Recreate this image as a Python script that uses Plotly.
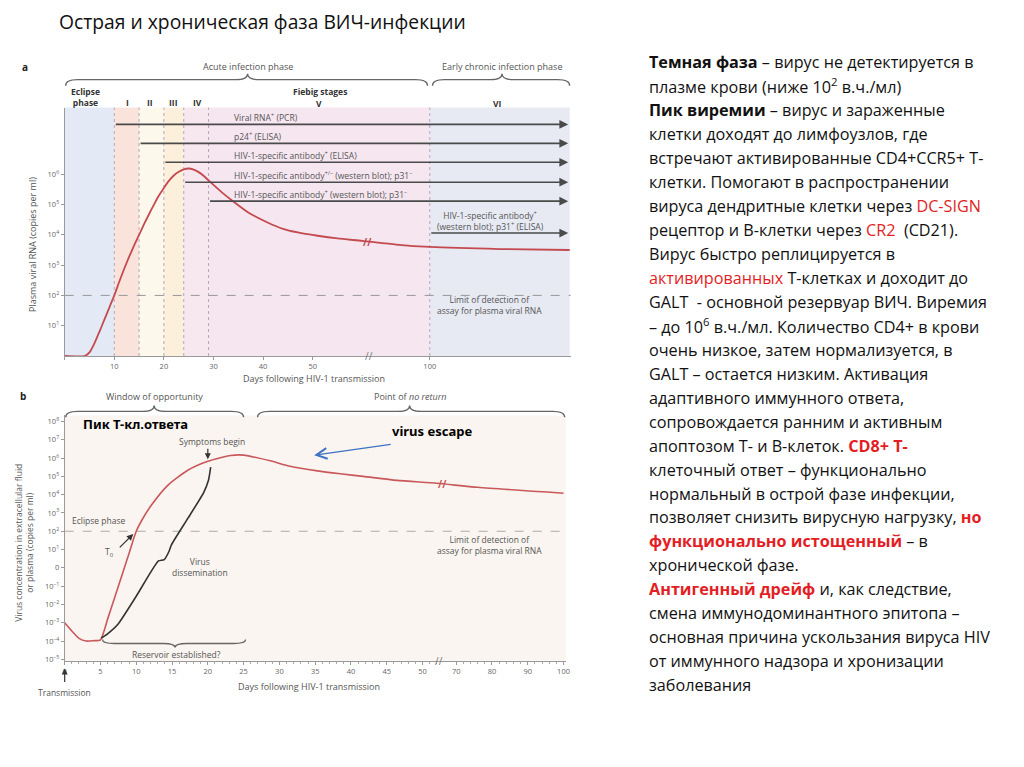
import numpy as np
import plotly.graph_objects as go

# page body has an 8px margin: the figure is drawn 8px in from the window corner
OFF = 8
W, H = 1024 - OFF, 767 - OFF

# ---------------- data ----------------
# Panel a: plasma viral RNA, log10(copies per ml), vs days following HIV-1 transmission
a_days = [0, 4, 5, 6, 7, 8, 9, 10, 11, 12, 13, 14, 15, 16, 17, 18, 19, 20, 21, 22, 23, 24, 25,
          26, 27, 28, 29, 30, 32, 34, 37, 41, 44, 47, 51, 55, 60, 80, 100, 150, 200]
a_log_rna = [0, 0, 0.12, 0.42, 0.8, 1.2, 1.6, 2.0, 2.45, 2.88, 3.28, 3.65, 4.0, 4.35, 4.68, 5.0, 5.3,
             5.55, 5.78, 5.96, 6.08, 6.16, 6.19, 6.15, 6.07, 5.95, 5.8, 5.65, 5.36, 5.1, 4.74, 4.4,
             4.2, 4.08, 3.97, 3.88, 3.8, 3.68, 3.6, 3.53, 3.5]
# Fiebig stage boundaries (days) and names
stage_bounds = [0, 10, 15, 20, 24, 29, 100, 200]
stage_names = ["Eclipse<br>phase", "I", "II", "III", "IV", "V", "VI"]
# Assays: first day positive, label
assay_start = [10, 15, 20, 24, 29, 100]
assay_labels = [
    "Viral RNA<sup>+</sup> (PCR)",
    "p24<sup>+</sup> (ELISA)",
    "HIV-1-specific antibody<sup>+</sup> (ELISA)",
    "HIV-1-specific antibody<sup>+/–</sup> (western blot); p31<sup>–</sup>",
    "HIV-1-specific antibody<sup>+</sup> (western blot); p31<sup>–</sup>",
    "HIV-1-specific antibody<sup>+</sup><br>(western blot); p31<sup>+</sup> (ELISA)",
]
detection_limit_log = 2
a_tick_days = [0, 10, 20, 30, 40, 50, 100]
a_tick_text = ["", "10", "20", "30", "40", "50", "100"]
a_y_exps = [1, 2, 3, 4, 5, 6]

# Panel b: virus concentration, log10(copies per ml)
b_days = [0, 1, 2, 3, 4, 5, 6, 7, 8, 9, 10, 11, 12.1, 14.4, 17.2, 20, 23.2, 25, 28.7, 31.5,
          35.3, 38.5, 41.7, 46.4, 52, 76, 100]
b_log_plasma = [-3.0, -3.45, -3.85, -4.0, -3.98, -3.93, -2.8, -1.6, -0.4, 0.8, 2.0, 2.75, 3.42,
                4.51, 5.33, 5.82, 6.14, 6.16, 5.85, 5.55, 5.3, 5.14, 5.0, 4.78, 4.62, 4.4, 4.08]
b_black_days = [5.1, 6, 7.5, 10, 13.1, 13.9, 14.6, 14.9, 17.2, 19.4, 20.1, 20.4]
b_black_log = [-3.84, -3.6, -3.05, -1.55, 0.38, 0.45, 0.92, 1.25, 2.7, 4.1, 4.8, 5.5]
b_tick_days = [0, 5, 10, 15, 20, 25, 30, 35, 40, 45, 50, 70, 80, 90, 100]
b_y_exps = [-5, -4, -3, -2, -1, 0, 1, 2, 3, 4, 5, 6, 7, 8]

# ---------------- axis break mappings ----------------
a_map_days = [0, 60, 100, 200]
a_map_pos = [0, 60, 73.6, 101.8]
b_map_days = [0, 52, 70, 100]
b_map_pos = [0, 52, 54.7, 69.7]


def amap(d):
    return np.interp(d, a_map_days, a_map_pos)


def bmap(d):
    return np.interp(d, b_map_days, b_map_pos)


def PX(x):
    return (x - OFF) / W


def PY(y):
    return 1 - (y - OFF) / H


# y of panel a in log units from pixel (for annotation layer positions)
def ya(py):
    return (357.4 - py) / 30.4


RED = "#c44a50"
TXT = "#555555"
FONT = "Open Sans"

fig = go.Figure()

# ---- curves ----
fig.add_trace(go.Scatter(x=amap(np.array(a_days)), y=a_log_rna, mode="lines",
                         line=dict(color=RED, width=1.8, shape="spline", smoothing=0.6),
                         xaxis="x", yaxis="y", hoverinfo="skip", showlegend=False))
fig.add_trace(go.Scatter(x=bmap(np.array(b_days)), y=b_log_plasma, mode="lines",
                         line=dict(color="#c9585c", width=1.6, shape="spline", smoothing=0.6),
                         xaxis="x2", yaxis="y2", hoverinfo="skip", showlegend=False))
fig.add_trace(go.Scatter(x=bmap(np.array(b_black_days)), y=b_black_log, mode="lines",
                         line=dict(color="#333333", width=1.6, shape="spline", smoothing=0.5),
                         xaxis="x2", yaxis="y2", hoverinfo="skip", showlegend=False))

shapes = []
annotations = []

# ---- panel a bands ----
band_colors = ["#e3eaf5", "#f9e3da", "#fdf8ec", "#fcefdc", "#f7e7ef", "#f5e6f0", "#e7e9f3"]
for i in range(len(stage_bounds) - 1):
    shapes.append(dict(type="rect", xref="x", yref="y domain",
                       x0=float(amap(stage_bounds[i])), x1=float(amap(stage_bounds[i + 1])),
                       y0=0, y1=1, fillcolor=band_colors[i], line=dict(width=0), layer="below"))
for d in stage_bounds[1:-1]:
    shapes.append(dict(type="line", xref="x", yref="y domain", x0=float(amap(d)), x1=float(amap(d)),
                       y0=0, y1=1, line=dict(color="#b5a6b6", width=1, dash="dot"), layer="below"))
shapes.append(dict(type="line", xref="x domain", yref="y", x0=0, x1=1, y0=detection_limit_log,
                   y1=detection_limit_log, line=dict(color="#999999", width=1, dash="dash"), layer="below"))

# ---- panel b background ----
shapes.append(dict(type="rect", xref="x2 domain", yref="y2 domain", x0=0, x1=1, y0=0, y1=1,
                   fillcolor="#faf5f0", line=dict(width=0), layer="below"))
shapes.append(dict(type="line", xref="x2 domain", yref="y2", x0=0, x1=1, y0=detection_limit_log,
                   y1=detection_limit_log, line=dict(color="#aaaaaa", width=1, dash="dash"), layer="below"))


def brace(x0, x1, m, y, d=6, r=12, flip=False):
    s = -1 if flip else 1

    def p(x, yy):
        return f"{PX(x):.5f},{PY(yy):.5f}"
    path = (f"M{p(x0, y + s * d)} Q{p(x0, y)} {p(x0 + r, y)} L{p(m - r, y)} Q{p(m, y)} {p(m, y - s * d)} "
            f"Q{p(m, y)} {p(m + r, y)} L{p(x1 - r, y)} Q{p(x1, y)} {p(x1, y + s * d)}")
    return dict(type="path", xref="paper", yref="paper", path=path, line=dict(color="#666666", width=1.3))


shapes += [brace(64, 428, 247, 80), brace(433, 571, 503, 80),
           brace(64, 243, 153, 413), brace(257, 566, 410, 413),
           brace(101, 245, 174, 646, d=4, flip=True)]


def txt(x, y, text, size=9, color=TXT, xanchor="left", yanchor="middle", family=FONT, **kw):
    annotations.append(dict(xref="paper", yref="paper", x=PX(x), y=PY(y), text=text, showarrow=False,
                            xanchor=xanchor, yanchor=yanchor, font=dict(size=size, color=color, family=family),
                            **kw))


def arrow_px(x0, y0, x1, y1, color="#333", width=1.2, head=2, size=1):
    annotations.append(dict(xref="paper", yref="paper", x=PX(x1), y=PY(y1), axref="pixel", ayref="pixel",
                            ax=x0 - x1, ay=y0 - y1, text="", showarrow=True, arrowhead=head, arrowsize=size,
                            arrowwidth=width, arrowcolor=color))


# ---- panel a assay arrows ----
arrow_levels_px = [125, 144, 163, 183, 202, 234]
label_px = [(231, 117), (231, 137), (231, 156), (231, 176), (231, 195), (436, 221)]
for start, lvl, lab, (lx, ly) in zip(assay_start, arrow_levels_px, assay_labels, label_px):
    annotations.append(dict(xref="x", yref="y", x=101.5, y=ya(lvl), axref="x", ayref="y",
                            ax=float(amap(start)), ay=ya(lvl), text="", showarrow=True, arrowhead=2,
                            arrowsize=1.1, arrowwidth=1.6, arrowcolor="#4a4a4a"))
    txt(lx, ly, lab, size=8.5)

# ---- panel a texts ----
txt(18, 67, "<b>a</b>", size=10, color="#222")
txt(247, 67, "Acute infection phase", size=9, xanchor="center")
txt(503, 67, "Early chronic infection phase", size=9, xanchor="center")
txt(67, 97, "<b>" + stage_names[0] + "</b>", size=8.5, color="#333")
for name, xc in zip(stage_names[1:5], [126, 149, 172, 197]):
    txt(xc, 103, "<b>" + name + "</b>", size=8.5, color="#333", xanchor="center")
txt(320, 92, "<b>Fiebig stages</b>", size=8.5, color="#333", xanchor="center")
txt(319, 104, "<b>" + stage_names[5] + "</b>", size=8.5, color="#333", xanchor="center")
txt(498, 104, "<b>" + stage_names[6] + "</b>", size=8.5, color="#333", xanchor="center")
txt(436, 306, "Limit of detection of<br>assay for plasma viral RNA", size=8.5)
txt(314, 380, "Days following HIV-1 transmission", size=9, xanchor="center")
txt(30, 245, "Plasma viral RNA (copies per ml)", size=9, xanchor="center", textangle=-90)
txt(368, 243, "<b>//</b>", size=10, color=RED, xanchor="center")
txt(369, 357, "//", size=10, color="#777", xanchor="center")

# ---- panel b texts ----
txt(16, 398, "<b>b</b>", size=10, color="#222")
txt(153, 398, "Window of opportunity", size=9, xanchor="center")
txt(410, 398, "Point of <i>no return</i>", size=9, xanchor="center")
txt(79, 426, "<b>Пик Т-кл.ответа</b>", size=13, color="#000", family="Noto Sans")
txt(390, 433, "<b>virus escape</b>", size=13, color="#000", family="Noto Sans")
arrow_px(392, 446, 314, 457, color="#3d72c4", width=1.3, head=5, size=1.6)
txt(211, 443, "Symptoms begin", size=8.5, xanchor="center")
arrow_px(207, 449, 207, 461, color="#333", width=1.2, head=2, size=1)
txt(68, 523, "Eclipse phase", size=8.5)
txt(108, 555, "T<sub>0</sub>", size=8.5, xanchor="center")
arrow_px(117, 551, 132, 536, color="#333", width=1.3, head=2, size=1)
txt(169, 569, "Virus<br>dissemination", size=8.5)
txt(175, 657, "Reservoir established?", size=8.5, xanchor="center")
txt(436, 547, "Limit of detection of<br>assay for plasma viral RNA", size=8.5)
arrow_px(63, 686, 63, 671, color="#333", width=1.2, head=2, size=1)
txt(63, 695, "Transmission", size=8.5, xanchor="center")
txt(309, 689, "Days following HIV-1 transmission", size=9, xanchor="center")
txt(22, 545, "Virus concentration in extracellular fluid<br>or plasma (copies per ml)", size=8.5,
    xanchor="center", textangle=-90)
txt(443, 486, "<b>//</b>", size=10, color="#c9585c", xanchor="center")
txt(440, 664, "//", size=10, color="#777", xanchor="center")

# ---- title & right text ----
txt(55, 22, "Острая и хроническая фаза ВИЧ-инфекции", size=19.3, color="#111", family=FONT)

R = "#e31e24"


def red(s, bold=False):
    s2 = f"<span style='color:{R}'>{s}</span>"
    return f"<b>{s2}</b>" if bold else s2


right_lines = [
    "<b>Темная фаза</b> – вирус не детектируется в",
    "плазме крови (ниже 10<sup>2</sup> в.ч./мл)",
    "<b>Пик виремии</b> – вирус и зараженные",
    "клетки доходят до лимфоузлов, где",
    "встречают активированные CD4+CCR5+ Т-",
    "клетки. Помогают в распространении",
    "вируса дендритные клетки через " + red("DC-SIGN"),
    "рецептор и В-клетки через " + red("CR2") + "  (CD21).",
    "Вирус быстро реплицируется в",
    red("активированных") + " Т-клетках и доходит до",
    "GALT  - основной резервуар ВИЧ. Виремия",
    "– до 10<sup>6</sup> в.ч./мл. Количество CD4+ в крови",
    "очень низкое, затем нормализуется, в",
    "GALT – остается низким. Активация",
    "адаптивного иммунного ответа,",
    "сопровождается ранним и активным",
    "апоптозом Т- и В-клеток. " + red("CD8+ Т-", True),
    "клеточный ответ – функционально",
    "нормальный в острой фазе инфекции,",
    "позволяет снизить вирусную нагрузку, " + red("но", True),
    red("функционально истощенный", True) + " – в",
    "хронической фазе.",
    red("Антигенный дрейф", True) + " и, как следствие,",
    "смена иммунодоминантного эпитопа –",
    "основная причина ускользания вируса HIV",
    "от иммунного надзора и хронизации",
    "заболевания",
]
for i, line in enumerate(right_lines):
    txt(649, 62 + i * 24.08, line, size=16.2, color="#111", family=FONT)


def sup_label(e):
    if e == 0:
        return "0"
    return "10<sup>" + (str(e) if e >= 0 else "–" + str(-e)) + "</sup>"


tickfont = dict(size=7.5, color="#666", family=FONT)
axis_common = dict(showgrid=False, zeroline=False, showline=True, linecolor="#9a9a9a", linewidth=1,
                   ticks="outside", ticklen=3, tickcolor="#9a9a9a", tickfont=tickfont)

fig.update_layout(
    width=W, height=H, margin=dict(l=0, r=0, t=0, b=0),
    paper_bgcolor="white", plot_bgcolor="rgba(0,0,0,0)",
    xaxis=dict(domain=[PX(63), PX(572)], range=[0, 102], anchor="y",
               tickmode="array", tickvals=list(amap(np.array(a_tick_days))), ticktext=a_tick_text,
               **axis_common),
    yaxis=dict(domain=[PY(357.4), PY(108)], range=[0, 8.2], anchor="x",
               tickmode="array", tickvals=a_y_exps, ticktext=[sup_label(e) for e in a_y_exps],
               **axis_common),
    xaxis2=dict(domain=[PX(63), PX(567)], range=[0, 70], anchor="y2",
                tickmode="array", tickvals=list(bmap(np.array(b_tick_days))),
                ticktext=[str(d) for d in b_tick_days],
                minor=dict(tickmode="array",
                           tickvals=list(bmap(np.concatenate([np.arange(0, 53, 1), np.arange(70, 101, 2)]))),
                           ticks="outside", ticklen=2, tickcolor="#aaaaaa"),
                **axis_common),
    yaxis2=dict(domain=[PY(664), PY(417)], range=[-5.11, 8.33], anchor="x2",
                tickmode="array", tickvals=b_y_exps, ticktext=[sup_label(e) for e in b_y_exps],
                **axis_common),
    shapes=shapes, annotations=annotations,
)

fig.write_html("out.html")
